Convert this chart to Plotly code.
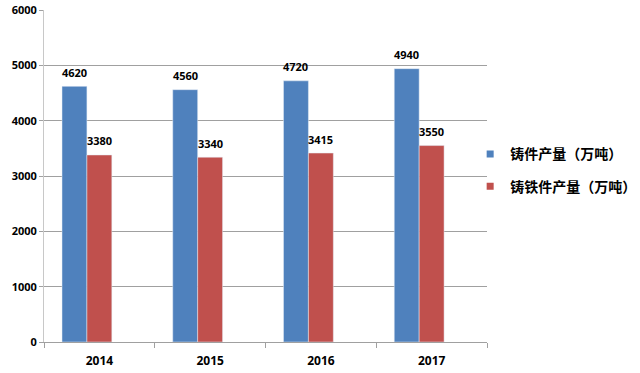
import plotly.graph_objects as go

years = ["2014", "2015", "2016", "2017"]
casting = [4620, 4560, 4720, 4940]
iron_casting = [3380, 3340, 3415, 3550]
series_names = ["铸件产量（万吨）", "铸铁件产量（万吨）"]
colors = ["#4F81BD", "#C0504D"]
y_ticks = [0, 1000, 2000, 3000, 4000, 5000, 6000]

BAR_W = 0.225
offsets = [-0.3375, -0.1125]  # layout like a 3-slot group with an empty third slot

fig = go.Figure()
for vals, name, col, off in [(casting, series_names[0], colors[0], offsets[0]),
                             (iron_casting, series_names[1], colors[1], offsets[1])]:
    fig.add_trace(go.Bar(x=years, y=vals, name=name, marker_color=col, showlegend=False,
                         width=BAR_W, offset=off))
for i, (name, col) in enumerate(zip(series_names, colors)):
    fig.add_trace(go.Scatter(x=[years[0]], y=[None], mode="markers", name=name,
                             legendgroup="g%d" % i,
                             marker=dict(symbol="square", size=7, color=col)))

# value labels above bars (x given as category index)
for vals, off in [(casting, offsets[0]), (iron_casting, offsets[1])]:
    for idx, v in enumerate(vals):
        fig.add_annotation(x=idx + off + BAR_W / 2, y=v, text="<b>%d</b>" % v, showarrow=False,
                           yshift=14, xanchor="center", yanchor="middle",
                           font=dict(family="Open Sans", size=11, color="black"))

fig.update_layout(
    width=640, height=373,
    margin=dict(l=44, r=153, t=10, b=31, autoexpand=False),
    paper_bgcolor="white", plot_bgcolor="white",
    barmode="overlay",
    showlegend=True,
    legend=dict(x=0.962, y=0.517, xanchor="left", yanchor="middle",
                font=dict(family="Noto Sans CJK SC", size=14, color="black", weight="bold"),
                tracegroupgap=11, itemwidth=30, bgcolor="rgba(0,0,0,0)"),
    font=dict(family="Open Sans", color="black"),
)
fig.update_xaxes(type="category", categoryorder="array", categoryarray=years,
                 range=[-0.5, 3.5],
                 showline=True, linecolor="#A0A0A0", linewidth=1, automargin=False,
                 ticks="outside", tickson="boundaries", ticklen=5, tickcolor="#A0A0A0",
                 ticklabelstandoff=8,
                 tickfont=dict(family="Open Sans", size=12, color="black", weight="bold"))
fig.update_yaxes(range=[0, 6000], tickvals=y_ticks, showgrid=True, gridcolor="#A0A0A0",
                 showline=True, linecolor="#C8C8C8", linewidth=1, automargin=False,
                 ticks="outside", ticklen=4, tickcolor="#A0A0A0", zeroline=False,
                 tickfont=dict(family="Open Sans", size=11, color="black", weight="bold"))

fig.write_html("out.html", config={"displayModeBar": False},
               post_script="document.body.style.margin='0';")
